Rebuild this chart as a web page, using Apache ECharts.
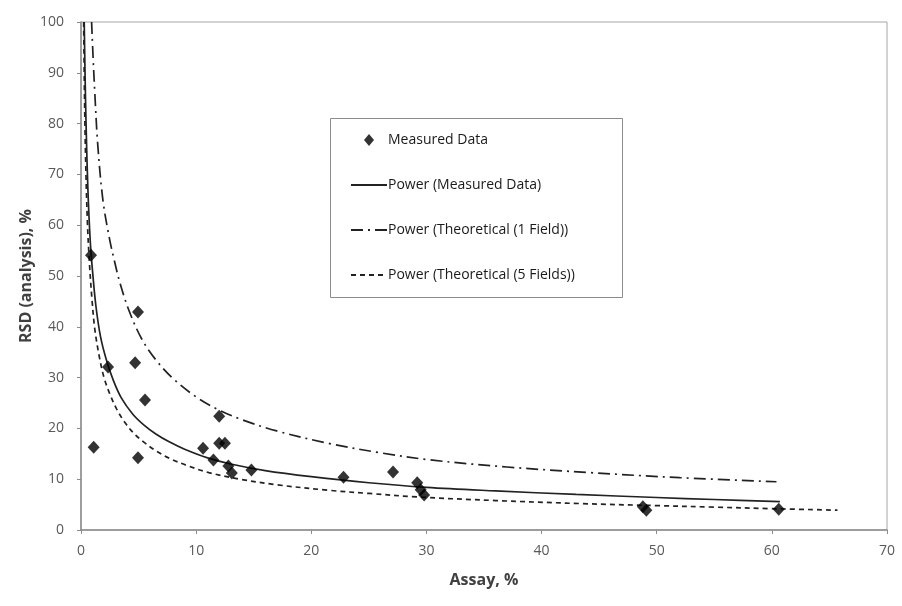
<!DOCTYPE html>
<html>
<head>
<meta charset="utf-8">
<script src="https://cdn.jsdelivr.net/npm/echarts@6/dist/echarts.min.js"></script>
<style>
html,body{margin:0;padding:0;background:#fff;}
#chart{width:902px;height:606px;}
</style>
</head>
<body>
<div id="chart"></div>
<script>
const measuredX = [0.87, 1.1, 2.35, 4.95, 4.7, 4.95, 5.56, 10.6, 11.5, 12.0, 12.5, 12.0, 12.8, 13.1, 14.8, 22.8, 27.1, 29.2, 29.5, 29.8, 48.8, 49.1, 60.6];
const measuredY = [54.1, 16.3, 32.1, 42.9, 32.9, 14.2, 25.6, 16.1, 13.8, 17.1, 17.1, 22.4, 12.6, 11.2, 11.8, 10.4, 11.4, 9.3, 7.9, 6.9, 4.6, 3.9, 4.1];

const fitMeasX = [0.28, 0.35, 0.45, 0.6, 0.8, 1.0, 1.3, 1.7, 2.2, 2.8, 3.5, 4.5, 5.5, 6.5, 7.7, 9, 11, 13, 16, 20, 25, 30, 36, 43, 50, 55, 60.7];
const fitMeasY = [100, 90, 79, 67, 57, 51, 44, 38, 33.5, 29.5, 26, 22.8, 20.6, 18.9, 17.3, 15.9, 14.2, 13.0, 11.7, 10.5, 9.3, 8.4, 7.7, 7.0, 6.4, 6.0, 5.6];

// "Power (Theoretical (1 Field))"
const fit1X = [0.92, 1.05, 1.2, 1.45, 1.9, 2.46, 2.9, 3.4, 4.2, 5.3, 6.5, 8, 10, 12, 14, 17, 21.6, 26, 30.3, 37, 44.2, 52, 60.4];
const fit1Y = [100, 93, 86, 76, 65, 57.5, 53, 48.5, 43, 37.5, 33.5, 29.8, 26.2, 23.6, 21.7, 19.5, 17.0, 15.2, 13.8, 12.4, 11.3, 10.3, 9.5];

// "Power (Theoretical (5 Fields))"
const fit5X = [0.23, 0.3, 0.4, 0.55, 0.72, 0.95, 1.2, 1.6, 2.0, 2.5, 3.1, 3.8, 4.6, 5.4, 6.5, 7.7, 9.2, 11.1, 13.8, 17, 21.6, 25, 29.2, 36, 43.4, 50, 55, 60, 65.7];
const fit5Y = [100, 86, 73, 61, 53, 45.5, 39.5, 34, 30, 26.8, 23.8, 21.2, 19.0, 17.4, 15.6, 14.1, 12.7, 11.3, 10.0, 8.9, 7.8, 7.2, 6.5, 5.8, 5.2, 4.8, 4.5, 4.2, 3.9];

const xTicks = [0, 10, 20, 30, 40, 50, 60, 70];
const yTicks = [0, 10, 20, 30, 40, 50, 60, 70, 80, 90, 100];

const zip = (xs, ys) => xs.map((x, i) => [x, ys[i]]);
const FONT = '"Open Sans", sans-serif';

const chart = echarts.init(document.getElementById('chart'), null, {renderer: 'canvas'});
chart.setOption({
  animation: false,
  backgroundColor: '#ffffff',
  grid: {left: 81, right: 15, top: 22, bottom: 76, show: true, borderColor: '#a6a6a6', borderWidth: 1, backgroundColor: 'transparent'},
  xAxis: {
    type: 'value', min: xTicks[0], max: xTicks[xTicks.length - 1], interval: 10,
    name: 'Assay, %', nameLocation: 'middle', nameGap: 42,
    nameTextStyle: {fontFamily: FONT, fontSize: 16, fontWeight: 'bold', color: '#404040'},
    axisLine: {show: true, lineStyle: {color: '#8c8c8c', width: 1.5}},
    axisTick: {show: true, length: 4, lineStyle: {color: '#8c8c8c'}},
    axisLabel: {fontFamily: FONT, fontSize: 14, color: '#595959', margin: 14},
    splitLine: {show: false}
  },
  yAxis: {
    type: 'value', min: yTicks[0], max: yTicks[yTicks.length - 1], interval: 10,
    name: 'RSD (analysis), %', nameLocation: 'middle', nameGap: 47, nameRotate: 90,
    nameMoveOverlap: false,
    nameTextStyle: {fontFamily: FONT, fontSize: 16, fontWeight: 'bold', color: '#404040'},
    axisLine: {show: true, lineStyle: {color: '#8c8c8c', width: 1.5}},
    axisTick: {show: true, length: 4, lineStyle: {color: '#8c8c8c'}},
    axisLabel: {fontFamily: FONT, fontSize: 14, color: '#595959', margin: 17},
    splitLine: {show: false}
  },
  graphic: [{
    type: 'rect', left: 330, top: 118, z: 0,
    shape: {width: 292, height: 179},
    style: {fill: '#ffffff', stroke: '#8c8c8c', lineWidth: 1}
  }],
  legend: {
    orient: 'vertical', left: 350, top: 133,
    itemWidth: 36, itemHeight: 14, itemGap: 31,
    padding: 0,
    textStyle: {fontFamily: FONT, fontSize: 14, color: '#1a1a1a', padding: [0, 0, 0, -4]},
    data: [
      {name: 'Measured Data', icon: 'path://M18,1 L23,7 L18,13 L13,7 Z M0,7 L0,7 M36,7 L36,7'},
      'Power (Measured Data)',
      'Power (Theoretical (1 Field))',
      'Power (Theoretical (5 Fields))'
    ],
    z: 5
  },
  series: [
    {
      name: 'Power (Theoretical (1 Field))', type: 'line', data: zip(fit1X, fit1Y),
      smooth: 0.35, showSymbol: false, symbol: 'none', clip: true,
      lineStyle: {color: '#222', width: 1.7, type: [12, 5, 2, 5]}, itemStyle: {color: '#222', opacity: 0}
    },
    {
      name: 'Power (Theoretical (5 Fields))', type: 'line', data: zip(fit5X, fit5Y),
      smooth: 0.35, showSymbol: false, symbol: 'none', clip: true,
      lineStyle: {color: '#222', width: 1.7, type: [5, 4]}, itemStyle: {color: '#222', opacity: 0}
    },
    {
      name: 'Power (Measured Data)', type: 'line', data: zip(fitMeasX, fitMeasY),
      smooth: 0.35, showSymbol: false, symbol: 'none', clip: true,
      lineStyle: {color: '#222', width: 1.7}, itemStyle: {color: '#222', opacity: 0}
    },
    {
      name: 'Measured Data', type: 'scatter', data: zip(measuredX, measuredY),
      symbol: 'diamond', symbolSize: [12, 13], itemStyle: {color: '#000'}, z: 4
    }
  ]
});
</script>
</body>
</html>
